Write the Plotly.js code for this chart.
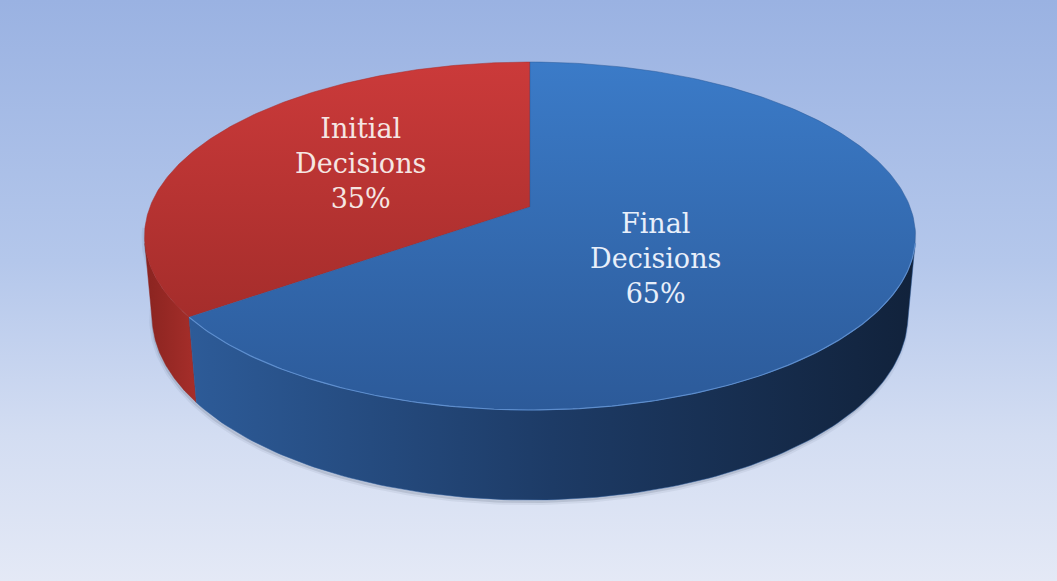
<!DOCTYPE html>
<html>
<head>
<meta charset="utf-8">
<script src="https://cdn.plot.ly/plotly-3.0.1.min.js"></script>
<style>
  html, body { margin: 0; padding: 0; width: 1057px; height: 581px; overflow: hidden; }
  body { background: linear-gradient(to bottom, #9AB2E2 0%, #B4C7EB 45%, #D3DDF2 75%, #E4E9F6 100%); }
  #chart { width: 1057px; height: 581px; }
</style>
</head>
<body>
<div id="chart"></div>
<script>
// ---- data ----
const categories = ['Initial Decisions', 'Final Decisions'];
const values = [35, 65];
const labelLines = [['Initial', 'Decisions', '35%'], ['Final', 'Decisions', '65%']];

// ---- styles ----
const topColors = [['#A52D2B', '#CB3A3A'], ['#2C5A99', '#3B7BC8']];           // bottom -> top
const sideColors = [['#8A2420', '#A62E2A'], ['#2D5B98', '#1D3B66', '#11223B']]; // left -> right
const labelColors = ['#F5E6E3', '#E8EFFA'];
const labelPx = [[360, 163], [655, 258]];   // label centre, pixels

// ---- projection of a tilted disc ----
const W = 1057, Hpx = 581, CX = 530, CY = 207;
const sinA = 0.445, cosA = Math.sqrt(1 - sinA * sinA);
const D = 5.37, F = 2041, DEPTH = 0.2375;
function proj(deg, h) {
  const t = deg * Math.PI / 180;
  const u = Math.cos(t), v = Math.sin(t);
  const yc = v * sinA + h * cosA;
  const zc = D + v * cosA - h * sinA;
  return [F * u / zc, F * yc / zc];
}
function arc(a, b, h, n) {
  const xs = [], ys = [];
  for (let i = 0; i <= n; i++) {
    const p = proj(a + (b - a) * i / n, h);
    xs.push(p[0]); ys.push(p[1]);
  }
  return [xs, ys];
}

const total = values.reduce((s, v) => s + v, 0);
let start = 90;
const slices = values.map(v => {
  const sweep = v / total * 360;
  const s = { a: start, b: start + sweep };
  start += sweep;
  return s;
});

// visible part of side wall: sin(theta) < -1/(D cosA)
const lim = Math.asin(1 / (D * cosA)) * 180 / Math.PI;
const vis = [180 + lim, 360 - lim];

const traces = [];

// soft shadow
{
  const b = arc(vis[0] - 6, vis[1] + 6, -DEPTH, 200);
  const t = arc(vis[1] + 6, vis[0] - 6, 0, 200);
  traces.push({
    x: b[0].concat(t[0]).map(x => x - 1), y: b[1].concat(t[1]).map(y => y - 3),
    mode: 'lines', fill: 'toself', line: { width: 4, color: 'rgba(70,80,100,0.08)' },
    fillcolor: 'rgba(70,80,100,0.16)', hoverinfo: 'skip', showlegend: false
  });
}

// side walls
slices.forEach((s, i) => {
  [0, -360, 360].forEach(k => {
    const a = Math.max(s.a + k, vis[0]), b = Math.min(s.b + k, vis[1]);
    if (b <= a) return;
    const t = arc(a, b, 0, 120), bt = arc(b, a, -DEPTH, 120);
    const xs = t[0].concat(bt[0]), ys = t[1].concat(bt[1]);
    xs.push(xs[0]); ys.push(ys[0]);
    const cs = sideColors[i];
    traces.push({
      x: xs, y: ys, mode: 'lines', fill: 'toself', line: { width: 0.5, color: cs[0] },
      fillgradient: {
        type: 'horizontal', start: Math.min(...xs), stop: Math.max(...xs),
        colorscale: cs.map((c, j) => [j / (cs.length - 1), c])
      },
      hoverinfo: 'skip', showlegend: false, name: categories[i]
    });
  });
});

// top faces
slices.forEach((s, i) => {
  const r = arc(s.a, s.b, 0, 240);
  const xs = [0].concat(r[0], [0]), ys = [0].concat(r[1], [0]);
  traces.push({
    x: xs, y: ys, mode: 'lines', fill: 'toself', line: { width: 0.5, color: topColors[i][0] },
    fillgradient: {
      type: 'vertical', start: Math.min(...ys), stop: Math.max(...ys),
      colorscale: [[0, topColors[i][0]], [1, topColors[i][1]]]
    },
    name: categories[i], hoverinfo: 'name', showlegend: false
  });
});

// highlight on front rim
{
  const r = arc(slices[1].a, vis[1], 0, 160);
  traces.push({ x: r[0], y: r[1], mode: 'lines', line: { width: 1.2, color: 'rgba(110,160,225,0.7)' }, hoverinfo: 'skip', showlegend: false });
}

const annotations = labelLines.map((lines, i) => ({
  xref: 'paper', yref: 'paper', x: labelPx[i][0] / W, y: 1 - labelPx[i][1] / Hpx,
  xanchor: 'center', yanchor: 'middle', showarrow: false, align: 'center',
  text: lines.join('<br>'),
  font: { family: 'DejaVu Serif, serif', size: 27, color: labelColors[i] }
}));

const layout = {
  width: W, height: Hpx, margin: { l: 0, r: 0, t: 0, b: 0 },
  paper_bgcolor: 'rgba(0,0,0,0)', plot_bgcolor: 'rgba(0,0,0,0)',
  xaxis: { range: [-CX, W - CX], visible: false, fixedrange: true },
  yaxis: { range: [CY - Hpx, CY], visible: false, fixedrange: true },
  annotations: annotations, showlegend: false
};
Plotly.newPlot('chart', traces, layout, { displayModeBar: false, staticPlot: true });
</script>
</body>
</html>
